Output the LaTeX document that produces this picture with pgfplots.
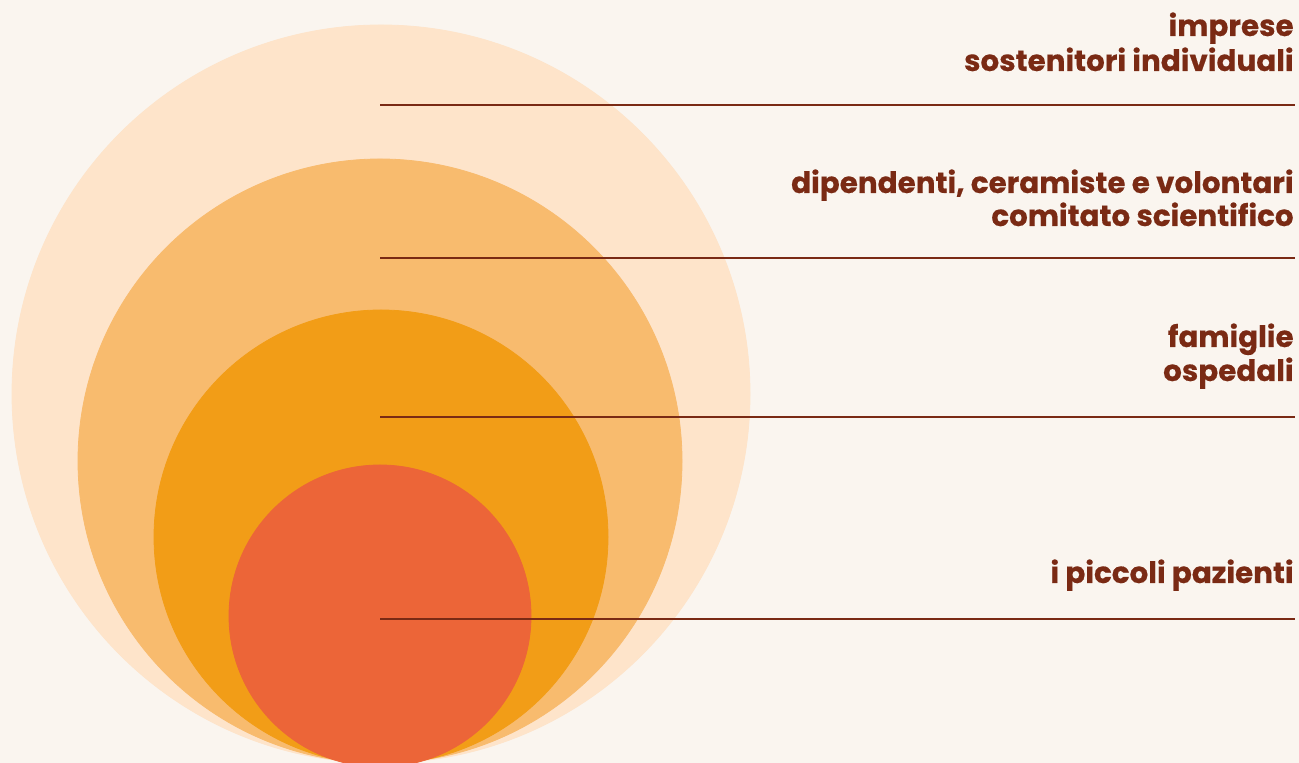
\documentclass[border=0pt]{standalone}
\usepackage{pgfplots}
\pgfplotsset{compat=1.18}
\usepackage{pgfplotstable}
\usepackage{fontspec}
\setmainfont{Poppins}[BoldFeatures={FakeBold=0.4}]
\definecolor{bgc}{HTML}{FAF5EF}
\definecolor{cA}{HTML}{FEE4CA}
\definecolor{cB}{HTML}{F8BB6E}
\definecolor{cC}{HTML}{F29D17}
\definecolor{cD}{HTML}{EC6538}
\definecolor{txt}{HTML}{7A2A14}

% circles: centre (pixel units, y up) and radius
\pgfplotstableread{
x y r
381 369 369
}\circA
\pgfplotstableread{
x y r
380 302 302
}\circB
\pgfplotstableread{
x y r
381 226 227
}\circC
\pgfplotstableread{
x y r
380 147 151
}\circD

\pgfplotsset{disc/.style={only marks, mark=*, scatter, color=#1,
  mark options={fill=#1, draw=none},
  scatter/use mapped color={fill=#1, draw=none},
  visualization depends on={\thisrow{r}*0.5 \as \rad},
  scatter/@pre marker code/.append style={/tikz/mark size=\rad}}}

\begin{document}
\begin{tikzpicture}
\begin{axis}[
  scale only axis, width=649.5pt, height=381.5pt,
  xmin=0, xmax=1299, ymin=0, ymax=763,
  hide axis, clip=true, clip marker paths=true,
  axis background/.style={fill=bgc},
]
\addplot[disc=cA] table {\circA};
\addplot[disc=cB] table {\circB};
\addplot[disc=cC] table {\circC};
\addplot[disc=cD] table {\circD};

\addplot[no marks, txt, line width=1pt] coordinates {(380,658) (1295,658)};
\addplot[no marks, txt, line width=1pt] coordinates {(380,505) (1295,505)};
\addplot[no marks, txt, line width=1pt] coordinates {(380,346) (1295,346)};
\addplot[no marks, txt, line width=1pt] coordinates {(380,144) (1295,144)};

\begin{scope}[every node/.style={anchor=base east, inner sep=0pt, text=txt, font=\fontsize{14.7}{17}\selectfont\bfseries}]
\node at (axis cs:1294,727) {imprese};
\node at (axis cs:1294,692) {sostenitori individuali};
\node at (axis cs:1294,570) {dipendenti, ceramiste e volontari};
\node at (axis cs:1294,537) {comitato scientifico};
\node at (axis cs:1294,416) {famiglie};
\node at (axis cs:1294,382) {ospedali};
\node at (axis cs:1294,180) {i piccoli pazienti};
\end{scope}
\end{axis}
\end{tikzpicture}
\end{document}
